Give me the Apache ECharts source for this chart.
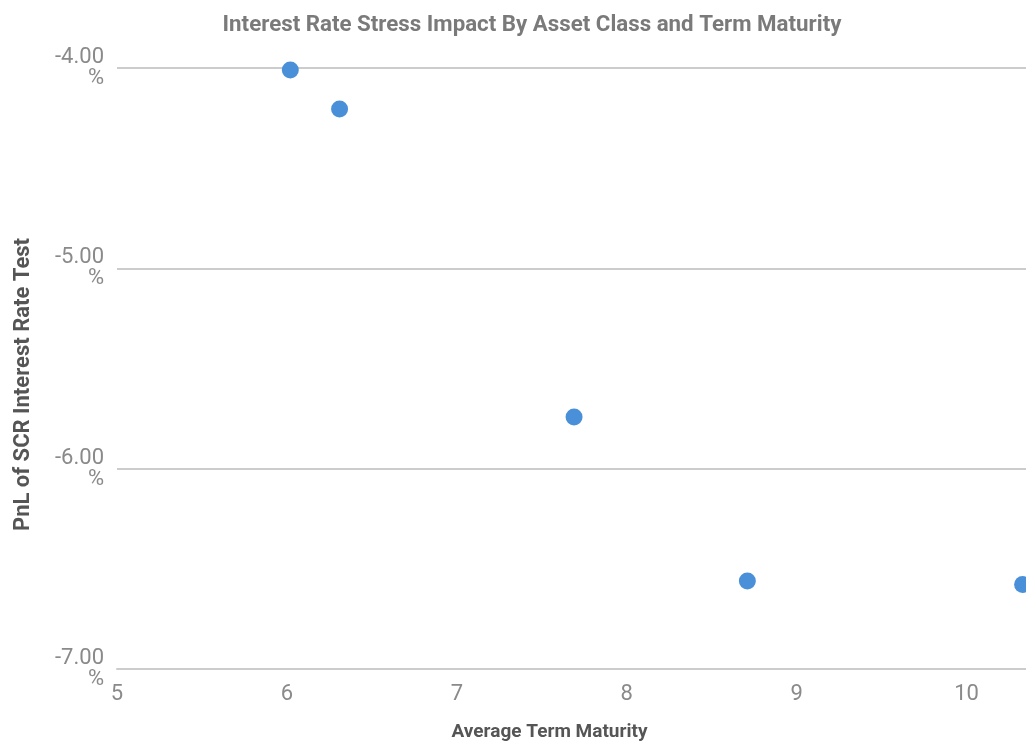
<!DOCTYPE html>
<html><head><meta charset="utf-8">
<script src="https://cdn.jsdelivr.net/npm/echarts@6/dist/echarts.min.js"></script>
<style>html,body{margin:0;padding:0;background:#fff}#c{width:1026px;height:744px}</style>
</head><body><div id="c"></div>
<script>
const termMaturity = [6.02, 6.31, 7.69, 8.71, 10.33];
const pnlPercent = [-4.01, -4.205, -5.742, -6.561, -6.578];
const titleText = 'Interest Rate Stress Impact By Asset Class and Term Maturity';
const xName = 'Average Term Maturity';
const yName = 'PnL of SCR Interest Rate Test';

const points = termMaturity.map((x, i) => [x, pnlPercent[i]]);
const chart = echarts.init(document.getElementById('c'));
chart.setOption({
  animation: false,
  title: {
    text: titleText, left: 527, top: 9, textAlign: 'center',
    textStyle: {fontFamily: 'Roboto', fontSize: 22.3, fontWeight: 'bold', color: '#7a7a7a'}
  },
  grid: {left: 117, right: 0, top: 68, bottom: 75, containLabel: false, outerBoundsMode: 'none'},
  xAxis: {
    type: 'value', min: 5, max: 10.35, interval: 1,
    name: xName, nameLocation: 'middle', nameGap: 54,
    nameTextStyle: {fontFamily: 'Roboto', fontSize: 19, fontWeight: 'bold', color: '#555', padding: [0, 44, 0, 0]},
    axisLine: {show: true, lineStyle: {color: '#cccccc', width: 2}},
    axisTick: {show: false},
    splitLine: {show: false},
    axisLabel: {showMaxLabel: false, margin: 14, fontFamily: 'Roboto', fontSize: 22, color: '#8a8a8a'}
  },
  yAxis: {
    type: 'value', min: -7, max: -4, interval: 1,
    name: yName, nameLocation: 'middle', nameGap: 83, nameRotate: 90,
    nameTextStyle: {fontFamily: 'Roboto', fontSize: 22, fontWeight: 'bold', color: '#555', padding: [0, 32, 0, 0]},
    axisLine: {show: false}, axisTick: {show: false},
    splitLine: {lineStyle: {color: '#cccccc', width: 2}},
    axisLabel: {
      margin: 13, fontFamily: 'Roboto', fontSize: 22, color: '#8a8a8a', lineHeight: 21, align: 'right',
      padding: [4, 0, 0, 0],
      formatter: v => v.toFixed(2) + '\n%'
    }
  },
  series: [{
    type: 'scatter', data: points, symbolSize: 17,
    itemStyle: {color: '#4a90d9', opacity: 1}
  }]
});
</script></body></html>
